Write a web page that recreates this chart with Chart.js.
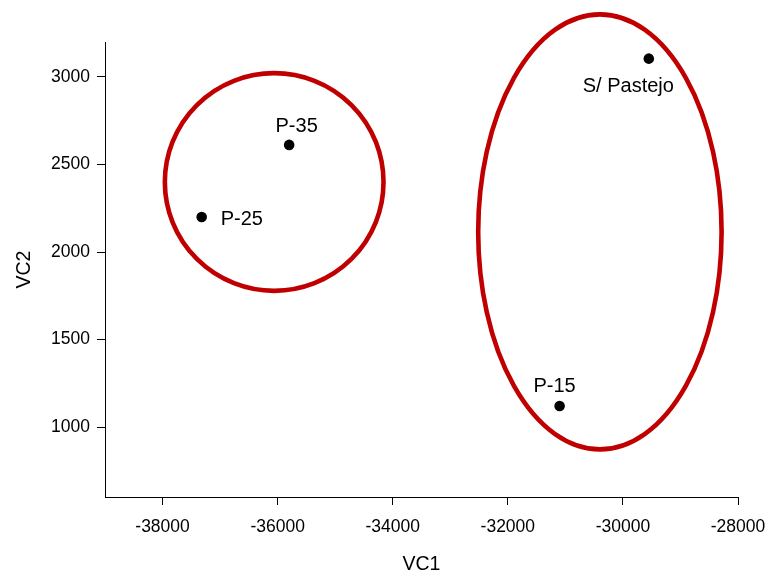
<!DOCTYPE html>
<html>
<head>
<meta charset="utf-8">
<script src="https://cdn.jsdelivr.net/npm/chart.js@4"></script>
<style>
  html, body { margin: 0; padding: 0; background: #fff; }
  #wrap { width: 768px; height: 574px; }
</style>
</head>
<body>
<div id="wrap"><canvas id="pca"></canvas></div>
<script>
// VC1 x VC2 scatter, grazing treatments grouped by ellipses

// ── data ──
const pointNames = ['P-25', 'P-35', 'P-15', 'S/ Pastejo'];
const vc1Values  = [-37320, -35800, -31100, -29550];
const vc2Values  = [2200, 2612, 1120, 3105];

// groups: centre (VC1, VC2) and semi-axes in axis units
const groupCenterVc1 = [-36060, -30400];
const groupCenterVc2 = [2400, 2115];
const groupRadiusVc1 = [1900, 2115];
const groupRadiusVc2 = [622, 1243];

const xTicks = [-38000, -36000, -34000, -32000, -30000, -28000];
const yTicks = [1000, 1500, 2000, 2500, 3000];
const xRange = [-39000, -28000];
const yRange = [600, 3200];

// ── style ──
const FONT = '"Liberation Sans", Arial, sans-serif';
const RED  = '#c00000';
// label anchor relative to its point: [dx, dy, align]
const LABEL_POS = [
  [19, 7.5, 'left'],
  [7.5, -13, 'center'],
  [-5, -14, 'center'],
  [-20.5, 33.5, 'center'],
];

const groupsPlugin = {
  id: 'groups',
  beforeDatasetsDraw(chart) {
    const { ctx, scales: { x, y } } = chart;
    ctx.save();
    ctx.strokeStyle = RED;
    ctx.lineWidth = 4.6;
    groupCenterVc1.forEach((cx, i) => {
      const px = x.getPixelForValue(cx);
      const py = y.getPixelForValue(groupCenterVc2[i]);
      const rx = Math.abs(x.getPixelForValue(cx + groupRadiusVc1[i]) - px);
      const ry = Math.abs(y.getPixelForValue(groupCenterVc2[i] + groupRadiusVc2[i]) - py);
      ctx.beginPath();
      ctx.ellipse(px, py, rx, ry, 0, 0, Math.PI * 2);
      ctx.stroke();
    });
    ctx.restore();
  },
  afterDatasetsDraw(chart) {
    const { ctx, scales: { x, y } } = chart;
    ctx.save();
    ctx.fillStyle = '#000';
    ctx.font = `20px ${FONT}`;
    ctx.textBaseline = 'alphabetic';
    pointNames.forEach((name, i) => {
      const [dx, dy, align] = LABEL_POS[i];
      ctx.textAlign = align;
      ctx.fillText(name, x.getPixelForValue(vc1Values[i]) + dx, y.getPixelForValue(vc2Values[i]) + dy);
    });
    ctx.restore();
  },
};

const axisCommon = {
  border: { display: true, color: '#000', width: 1 },
  grid: { drawOnChartArea: false, drawTicks: true, tickLength: 8, tickColor: '#000', tickWidth: 1 },
};

new Chart(document.getElementById('pca').getContext('2d'), {
  type: 'scatter',
  data: {
    datasets: [{
      data: vc1Values.map((v, i) => ({ x: v, y: vc2Values[i] })),
      backgroundColor: '#000',
      borderColor: '#000',
      pointRadius: 5.3,
      pointBorderWidth: 0,
    }],
  },
  options: {
    responsive: true,
    maintainAspectRatio: false,
    animation: false,
    layout: { padding: { top: 42, right: 30, left: 0, bottom: 0 } },
    plugins: { legend: { display: false }, tooltip: { enabled: false } },
    scales: {
      x: {
        ...axisCommon,
        type: 'linear',
        min: xRange[0],
        max: xRange[1],
        afterBuildTicks: s => { s.ticks = xTicks.map(v => ({ value: v })); },
        // fixed box: no extra room reserved for the last tick label
        afterFit: s => { s.height = 77; s.paddingLeft = 0; s.paddingRight = 0; },
        ticks: { color: '#000', padding: 13, maxRotation: 0, font: { family: FONT, size: 17.5, lineHeight: 1 }, callback: v => String(v) },
        title: { display: true, text: 'VC1', color: '#000', padding: { top: 0, bottom: 0 }, font: { family: FONT, size: 19.5, lineHeight: 1 } },
      },
      y: {
        ...axisCommon,
        type: 'linear',
        min: yRange[0],
        max: yRange[1],
        afterBuildTicks: s => { s.ticks = yTicks.map(v => ({ value: v })); },
        afterFit: s => { s.width = 105; s.paddingTop = 0; s.paddingBottom = 0; },
        ticks: { color: '#000', padding: 7, font: { family: FONT, size: 17.5, lineHeight: 1 }, callback: v => String(v) },
        title: { display: true, text: 'VC2', color: '#000', padding: { top: 15, bottom: 0 }, font: { family: FONT, size: 19.5, lineHeight: 1 } },
      },
    },
  },
  plugins: [groupsPlugin],
});
</script>
</body>
</html>
